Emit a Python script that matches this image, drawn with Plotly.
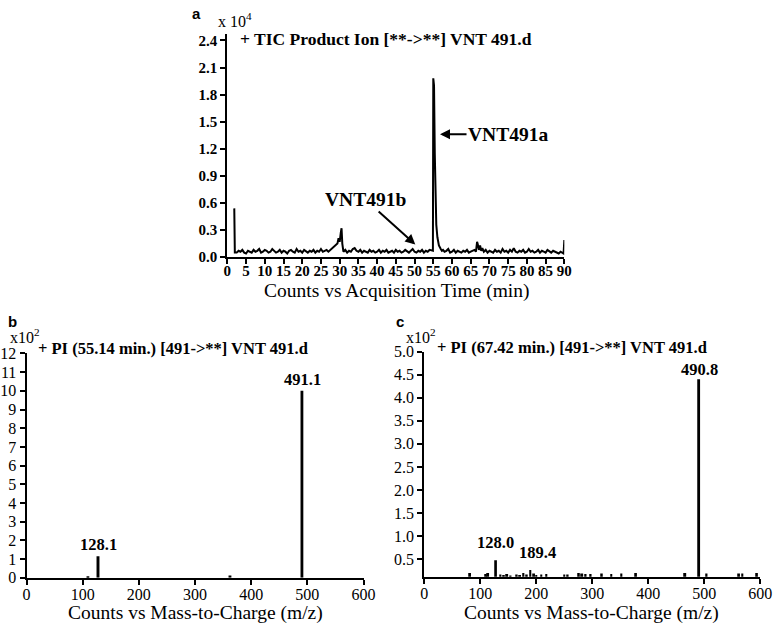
import plotly.graph_objects as go

# panel a: TIC chromatogram, counts in units of 10^4
tic_time = [
    1.85, 2.0,
    2.5, 3.0, 3.5, 4.0, 4.5, 5.0, 5.5, 6.0, 6.5, 7.0,
    7.5, 8.0, 8.5, 9.0, 9.5, 10.0, 10.5, 11.0, 11.5, 12.0,
    12.5, 13.0, 13.5, 14.0, 14.5, 15.0, 15.5, 16.0, 16.5, 17.0,
    17.5, 18.0, 18.5, 19.0, 19.5, 20.0, 20.5, 21.0, 21.5, 22.0,
    22.5, 23.0, 23.5, 24.0, 24.5, 25.0, 25.5, 26.0, 26.5, 27.0,
    27.5, 28.0, 28.5,
    29.0, 29.4, 29.7, 30.0, 30.3, 30.5, 30.7,
    31.0, 31.5, 32.0, 32.5, 33.0, 33.5, 34.0, 34.5, 35.0, 35.5,
    36.0, 36.5, 37.0, 37.5, 38.0, 38.5, 39.0, 39.5, 40.0, 40.5,
    41.0, 41.5, 42.0, 42.5, 43.0, 43.5, 44.0, 44.5, 45.0, 45.5,
    46.0, 46.5, 47.0, 47.5, 48.0, 48.5, 49.0, 49.5, 50.0, 50.5,
    51.0, 51.5, 52.0, 52.5, 53.0, 53.5, 54.0, 54.5,
    54.9, 55.0, 55.2, 55.4, 55.6, 55.8, 56.1, 56.5, 57.0, 57.3,
    57.6, 58.0, 58.5, 59.0, 59.5, 60.0, 60.5, 61.0, 61.5, 62.0,
    62.5, 63.0, 63.5, 64.0, 64.5, 65.0, 65.5, 66.0,
    66.4, 66.7, 66.9, 67.2, 67.5, 67.8, 68.1,
    68.5, 69.0, 69.5, 70.0, 70.5, 71.0, 71.5, 72.0, 72.5, 73.0,
    73.5, 74.0, 74.5, 75.0, 75.5, 76.0, 76.5, 77.0, 77.5, 78.0,
    78.5, 79.0, 79.5, 80.0, 80.5, 81.0, 81.5, 82.0, 82.5, 83.0,
    83.5, 84.0, 84.5, 85.0, 85.5, 86.0, 86.5, 87.0, 87.5, 88.0,
    88.5, 89.0, 89.5,
    89.8, 90.0,
]
tic_counts = [
    0.54, 0.05,
    0.05, 0.07, 0.06, 0.08, 0.05, 0.04, 0.07, 0.06, 0.05, 0.08,
    0.06, 0.07, 0.09, 0.05, 0.06, 0.08, 0.07, 0.05, 0.06, 0.09,
    0.07, 0.05, 0.06, 0.08, 0.05, 0.07, 0.06, 0.04, 0.07, 0.08,
    0.06, 0.05, 0.09, 0.06, 0.07, 0.05, 0.08, 0.06, 0.05, 0.07,
    0.06, 0.08, 0.05, 0.07, 0.06, 0.09, 0.06, 0.07, 0.08, 0.06,
    0.08, 0.09, 0.11,
    0.13, 0.15, 0.21, 0.17, 0.27, 0.32, 0.15,
    0.06, 0.08, 0.05, 0.07, 0.06, 0.09, 0.10, 0.07, 0.06, 0.08,
    0.05, 0.07, 0.06, 0.05, 0.08, 0.06, 0.07, 0.05, 0.06, 0.08,
    0.05, 0.07, 0.06, 0.08, 0.05, 0.06, 0.07, 0.05, 0.08, 0.06,
    0.07, 0.05, 0.06, 0.08, 0.06, 0.05, 0.07, 0.09, 0.06, 0.05,
    0.07, 0.06, 0.08, 0.05, 0.07, 0.06, 0.08, 0.07,
    0.07, 1.98, 1.90, 1.15, 0.62, 0.36, 0.22, 0.13, 0.09, 0.07,
    0.08, 0.06, 0.07, 0.09, 0.05, 0.06, 0.08, 0.05, 0.07, 0.06,
    0.05, 0.07, 0.06, 0.08, 0.05, 0.06, 0.07, 0.08,
    0.06, 0.17, 0.14, 0.08, 0.13, 0.07, 0.10,
    0.06, 0.08, 0.05, 0.07, 0.06, 0.05, 0.08, 0.06, 0.07, 0.05,
    0.09, 0.06, 0.07, 0.05, 0.08, 0.06, 0.10, 0.06, 0.05, 0.07,
    0.06, 0.08, 0.05, 0.06, 0.09, 0.06, 0.07, 0.05, 0.06, 0.08,
    0.05, 0.07, 0.06, 0.05, 0.08, 0.06, 0.05, 0.07, 0.06, 0.05,
    0.04, 0.06, 0.05,
    0.04, 0.19,
]

# panel b: product ion spectrum at 55.14 min, counts x10^2
mz_b = [110.0, 128.1, 363.0, 491.1]
int_b = [0.08, 1.15, 0.12, 10.0]

# panel c: product ion spectrum at 67.42 min, counts x10^2
mz_c = [81.7, 110.0, 114.0, 128.0, 136.0, 142.0, 148.0, 154.0, 165.0, 171.0,
        177.0, 183.0, 189.4, 196.0, 200.0, 209.0, 218.0, 250.0, 256.0, 276.0,
        282.0, 288.0, 297.0, 317.0, 334.0, 352.0, 378.0, 466.0, 490.8, 504.0,
        562.0, 568.0, 594.0]
int_c = [0.20, 0.18, 0.20, 0.48, 0.17, 0.16, 0.18, 0.15, 0.17, 0.16,
         0.20, 0.17, 0.27, 0.19, 0.16, 0.17, 0.18, 0.17, 0.17, 0.20,
         0.19, 0.18, 0.18, 0.19, 0.18, 0.19, 0.20, 0.20, 4.40, 0.19,
         0.19, 0.19, 0.20]

W, H = 784, 633
SERIF = 'Liberation Serif'
SANS = 'Liberation Sans'


def px(x):
    return x / W


def py(y):
    return 1 - y / H


def axis_style(**kw):
    d = dict(showline=True, linecolor='black', linewidth=2, ticks='outside',
             ticklen=5, tickwidth=2, tickcolor='black', showgrid=False,
             zeroline=False, fixedrange=True)
    d.update(kw)
    return d


fig = go.Figure()
fig.add_trace(go.Scatter(x=tic_time, y=tic_counts, mode='lines',
                         line=dict(color='black', width=2),
                         xaxis='x', yaxis='y'))
fig.add_trace(go.Bar(x=mz_b, y=int_b, width=3.5,
                     marker=dict(color='black', line=dict(width=0)),
                     xaxis='x2', yaxis='y2'))
fig.add_trace(go.Bar(x=mz_c, y=int_c, width=3.5,
                     marker=dict(color='black', line=dict(width=0)),
                     xaxis='x3', yaxis='y3'))

bold_ticks = dict(family=SERIF, size=15, color='black', weight='bold')
plain_ticks = dict(family=SERIF, size=16, color='black')

fig.update_layout(
    width=W, height=H,
    margin=dict(l=0, r=0, t=0, b=0),
    paper_bgcolor='white', plot_bgcolor='white',
    showlegend=False,
    font=dict(family=SERIF, color='black'),
    xaxis=axis_style(domain=[px(228), px(572)], range=[0, 90], dtick=5, tick0=0,
                     tickfont=bold_ticks, ticklabelstandoff=-6, anchor='y'),
    yaxis=axis_style(domain=[py(256), py(27)], range=[0, 2.468], dtick=0.3, tick0=0,
                     tickformat='.1f', tickfont=bold_ticks, anchor='x'),
    xaxis2=axis_style(domain=[px(23), px(367)], range=[0, 600], dtick=100,
                      tickfont=plain_ticks, ticklabelstandoff=-4, anchor='y2'),
    yaxis2=axis_style(domain=[py(585.5), py(355)], range=[0, 12], dtick=1,
                      tickfont=plain_ticks, anchor='x2'),
    xaxis3=axis_style(domain=[px(429), px(772)], range=[0, 600], dtick=100,
                      tickfont=plain_ticks, ticklabelstandoff=-4, anchor='y3'),
    yaxis3=axis_style(domain=[py(584.5), py(353)], range=[0.12, 5.0], dtick=0.5,
                      tick0=0, tickformat='.1f', tickfont=plain_ticks, anchor='x3'),
)

notes = [
    # panel letters
    dict(text='<b>a</b>', x=px(197), y=py(6), font=dict(family=SANS, size=15)),
    dict(text='<b>b</b>', x=px(9), y=py(322), font=dict(family=SANS, size=15)),
    dict(text='<b>c</b>', x=px(404), y=py(322), font=dict(family=SANS, size=15)),
    # multipliers
    dict(text='x 10<sup>4</sup>', x=px(236), y=py(12), font=dict(family=SERIF, size=16)),
    dict(text='x10<sup>2</sup>', x=px(21), y=py(337), font=dict(family=SERIF, size=16)),
    dict(text='x10<sup>2</sup>', x=px(426), y=py(337), font=dict(family=SERIF, size=16)),
    # panel titles
    dict(text='<b>+ TIC Product Ion [**->**] VNT 491.d</b>', x=px(239), y=py(32),
         xanchor='left', font=dict(family=SERIF, size=17.5)),
    dict(text='<b>+ PI (55.14 min.) [491->**] VNT 491.d</b>', x=px(33), y=py(350),
         xanchor='left', font=dict(family=SERIF, size=16.5)),
    dict(text='<b>+ PI (67.42 min.) [491->**] VNT 491.d</b>', x=px(440), y=py(349),
         xanchor='left', font=dict(family=SERIF, size=16.5)),
    # axis titles
    dict(text='Counts vs Acquisition Time (min)', x=px(401), y=py(291),
         font=dict(family=SERIF, size=19.5)),
    dict(text='Counts vs Mass-to-Charge (m/z)', x=px(195), y=py(622),
         font=dict(family=SERIF, size=19.5)),
    dict(text='Counts vs Mass-to-Charge (m/z)', x=px(600), y=py(622),
         font=dict(family=SERIF, size=19.5)),
]
for n in notes:
    n.setdefault('xanchor', 'center')
    n['font']['color'] = 'black'
    fig.add_annotation(xref='paper', yref='paper', yanchor='middle',
                       showarrow=False, **n)

# peak labels
peak_font = dict(family=SERIF, size=16.5, color='black')
fig.add_annotation(x=491.1, y=10.0, xref='x2', yref='y2', text='<b>491.1</b>',
                   showarrow=False, yanchor='bottom', yshift=0, font=peak_font)
fig.add_annotation(x=128.1, y=1.15, xref='x2', yref='y2', text='<b>128.1</b>',
                   showarrow=False, yanchor='bottom', yshift=0, font=peak_font)
fig.add_annotation(x=490.8, y=4.4, xref='x3', yref='y3', text='<b>490.8</b>',
                   showarrow=False, yanchor='bottom', yshift=-2, font=peak_font)
fig.add_annotation(x=128.0, y=0.48, xref='x3', yref='y3', text='<b>128.0</b>',
                   showarrow=False, yanchor='bottom', yshift=6, font=peak_font)
fig.add_annotation(x=189.4, y=0.27, xref='x3', yref='y3', text='<b>189.4</b>',
                   showarrow=False, yanchor='bottom', xshift=7, yshift=6, font=peak_font)

# compound arrows on panel a
arrow_font = dict(family=SERIF, size=19.5, color='black')
fig.add_annotation(x=56.8, y=1.36, xref='x', yref='y', text='<b>VNT491a</b>',
                   showarrow=True, arrowhead=2, arrowsize=1, arrowwidth=2,
                   arrowcolor='black', ax=68, ay=0, font=arrow_font)
fig.add_annotation(x=50.2, y=0.14, xref='x', yref='y', text='<b>VNT491b</b>',
                   showarrow=True, arrowhead=2, arrowsize=1, arrowwidth=2,
                   arrowcolor='black', ax=-50, ay=-45, font=arrow_font)

# the page body otherwise carries the browser's default 8px margin
fig.write_html("out.html", config={'displayModeBar': False},
               post_script="document.body.style.margin='0';"
                           "document.body.style.overflow='hidden';")
